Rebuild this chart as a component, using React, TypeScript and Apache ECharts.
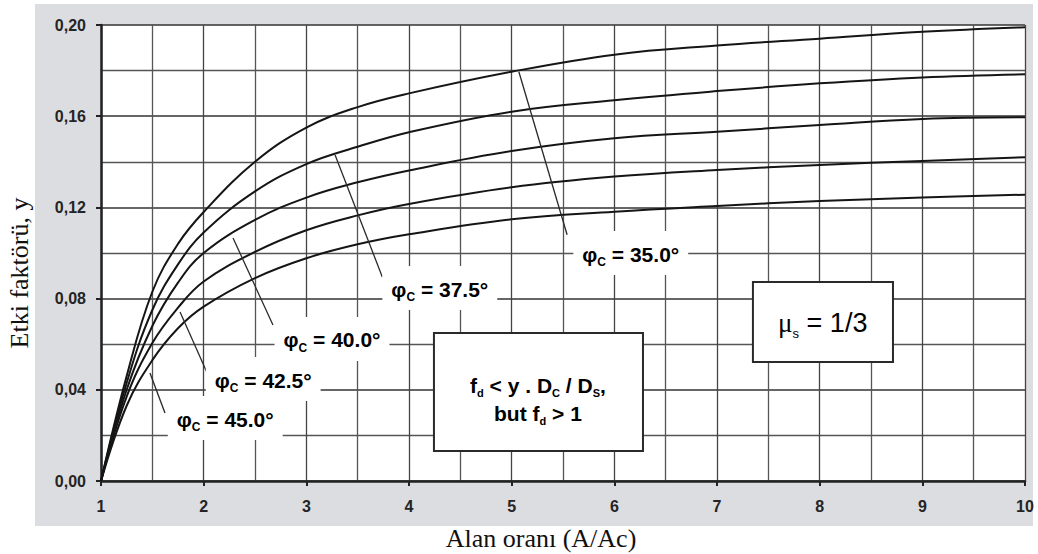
import React, { useEffect, useRef } from "react";
import * as echarts from "echarts";

// ---- data ----
const xValues = [1, 1.25, 1.5, 1.75, 2, 2.5, 3, 3.5, 4, 5, 6, 7, 8, 9, 10];
const phi350 = [0, 0.046, 0.083, 0.104, 0.118, 0.14, 0.155, 0.164, 0.17, 0.1795, 0.187, 0.191, 0.194, 0.197, 0.199];
const phi375 = [0, 0.043, 0.075, 0.095, 0.109, 0.127, 0.139, 0.1466, 0.153, 0.162, 0.167, 0.171, 0.1744, 0.177, 0.1784];
const phi400 = [0, 0.04, 0.068, 0.087, 0.1, 0.1145, 0.1243, 0.131, 0.1362, 0.1447, 0.1503, 0.1532, 0.1561, 0.1588, 0.1595];
const phi425 = [0, 0.037, 0.0605, 0.076, 0.0875, 0.1005, 0.11, 0.1165, 0.1215, 0.1288, 0.1335, 0.1364, 0.1386, 0.1404, 0.142];
const phi450 = [0, 0.033, 0.053, 0.067, 0.0765, 0.089, 0.0977, 0.1038, 0.1082, 0.1148, 0.1181, 0.1206, 0.1228, 0.1243, 0.1256];
const seriesList = [phi350, phi375, phi400, phi425, phi450];

const angleLabels = ["35.0", "37.5", "40.0", "42.5", "45.0"];
// leader lines: [start on curve, end near label] in data coords
const leaderStarts = [[5.07, 0.1795], [3.28, 0.143], [2.286, 0.1066], [1.77, 0.0741], [1.477, 0.0474]];
const leaderEnds = [[5.54, 0.108], [3.74, 0.0895], [2.675, 0.0684], [2.03, 0.0478], [1.623, 0.0298]];
const labelCenters = [[6.16, 0.1], [4.3, 0.0846], [3.25, 0.0623], [2.58, 0.0447], [2.21, 0.0276]];

const fdBox = [[4.243, 0.0649], [6.279, 0.0132]];
const fdLine1At = [5.256, 0.0421];
const fdLine2At = [5.256, 0.0298];
const muBox = [[7.35, 0.0873], [8.714, 0.0522]];
const muTextAt = [8.03, 0.0695];

const xTitle = "Alan oranı (A/Ac)";
const yTitle = "Etki faktörü, y";

const SANS = "'Liberation Sans', Arial, sans-serif";
const SERIF = "'Liberation Serif', 'Times New Roman', serif";
const TXT = "#242424";

export default function App() {
  const ref = useRef<HTMLDivElement>(null);

  useEffect(() => {
    if (!ref.current) return;
    const chart = echarts.init(ref.current, null, { renderer: "svg" });
    chart.setOption({
      animation: false,
      backgroundColor: "#ffffff",
      grid: {
        left: 101,
        right: 13,
        top: 25,
        bottom: 73,
        show: true,
        backgroundColor: "#ffffff",
        borderWidth: 0,
      },
      xAxis: {
        type: "value",
        min: 1,
        max: 10,
        interval: 1,
        axisLine: { show: true, onZero: false, lineStyle: { color: "#222", width: 2.5 } },
        axisTick: { show: true, length: 5, lineStyle: { color: "#222", width: 2 } },
        minorTick: { show: false, splitNumber: 2 },
        splitLine: { show: true, lineStyle: { color: "#444", width: 1.3 } },
        minorSplitLine: { show: true, lineStyle: { color: "#555", width: 1.3 } },
        axisLabel: { fontWeight: "bold", fontSize: 16, color: TXT, margin: 17, fontFamily: SANS },
      },
      yAxis: {
        type: "value",
        min: 0,
        max: 0.2,
        interval: 0.04,
        axisLine: { show: true, lineStyle: { color: "#222", width: 2.5 } },
        axisTick: { show: true, length: 5, lineStyle: { color: "#222", width: 2 } },
        minorTick: { show: false, splitNumber: 2 },
        splitLine: { show: true, lineStyle: { color: "#333", width: 1.5 } },
        minorSplitLine: { show: true, lineStyle: { color: "#555", width: 1.3 } },
        axisLabel: {
          fontWeight: "bold",
          fontSize: 16,
          color: TXT,
          margin: 15,
          fontFamily: SANS,
          formatter: (v: number) => v.toFixed(2).replace(".", ","),
        },
      },
      series: seriesList.map((arr, i) => ({
        type: "line",
        name: angleLabels[i],
        data: xValues.map((x, j) => [x, arr[j]]),
        showSymbol: false,
        smooth: 0.4,
        lineStyle: { color: "#151515", width: 2 },
        z: 5,
      })),
    });

    const px = (p: number[]) => chart.convertToPixel({ xAxisIndex: 0, yAxisIndex: 0 }, p) as number[];

    const phiRich = {
      p: { fontSize: 21, fontWeight: "bold", fontFamily: SANS, color: TXT, lineHeight: 28 },
      s: { fontSize: 12, fontWeight: "bold", fontFamily: SANS, color: TXT, lineHeight: 13, verticalAlign: "bottom" },
      a: { fontSize: 21, fontWeight: "bold", fontFamily: SANS, color: TXT, lineHeight: 28 },
    };

    const graphics: any[] = [];
    graphics.push({
      type: "rect",
      z: -10,
      shape: { x: 35, y: 4, width: 998, height: 522 },
      style: { fill: "#dcdde0" },
      silent: true,
    });

    leaderStarts.forEach((s, i) => {
      const a = px(s);
      const b = px(leaderEnds[i]);
      graphics.push({
        type: "line",
        z: 20,
        shape: { x1: a[0], y1: a[1], x2: b[0], y2: b[1] },
        style: { stroke: "#2a2a2a", lineWidth: 1.3 },
      });
    });

    labelCenters.forEach((c, i) => {
      const p = px(c);
      graphics.push({
        type: "text",
        z: 30,
        x: p[0],
        y: p[1],
        style: {
          text: `{p|φ}{s|C}{a| = ${angleLabels[i]}°}`,
          rich: phiRich,
          align: "center",
          verticalAlign: "middle",
          textAlign: "center",
          textVerticalAlign: "middle",
          backgroundColor: "#ffffff",
          padding: [9, 9, 7, 9],
        },
      });
    });

    const boxRect = (b: number[][]) => {
      const a = px(b[0]);
      const c = px(b[1]);
      return { x: a[0], y: a[1], width: c[0] - a[0], height: c[1] - a[1] };
    };
    graphics.push({
      type: "rect",
      z: 40,
      shape: boxRect(fdBox),
      style: { fill: "#ffffff", stroke: "#2a2a2a", lineWidth: 2 },
    });
    graphics.push({
      type: "rect",
      z: 40,
      shape: boxRect(muBox),
      style: { fill: "#ffffff", stroke: "#2a2a2a", lineWidth: 2 },
    });

    const boxRich = {
      a: { fontSize: 21, fontWeight: "bold", fontFamily: SANS, color: TXT, lineHeight: 26 },
      s: { fontSize: 11, fontWeight: "bold", fontFamily: SANS, color: TXT, lineHeight: 12, verticalAlign: "bottom" },
    };
    const l1 = px(fdLine1At);
    graphics.push({
      type: "text",
      z: 45,
      x: l1[0],
      y: l1[1],
      style: {
        text: "{a|f}{s|d}{a| < y . D}{s|C}{a| / D}{s|S}{a|,}",
        rich: boxRich,
        align: "center",
        verticalAlign: "middle",
        textAlign: "center",
        textVerticalAlign: "middle",
      },
    });
    const l2 = px(fdLine2At);
    graphics.push({
      type: "text",
      z: 45,
      x: l2[0],
      y: l2[1],
      style: {
        text: "{a|but f}{s|d}{a| > 1}",
        rich: boxRich,
        align: "center",
        verticalAlign: "middle",
        textAlign: "center",
        textVerticalAlign: "middle",
      },
    });
    const mu = px(muTextAt);
    graphics.push({
      type: "text",
      z: 45,
      x: mu[0],
      y: mu[1],
      style: {
        text: "{m|μ}{s|s}{a| = 1/3}",
        rich: {
          m: { fontSize: 27, fontFamily: SERIF, color: TXT, lineHeight: 34 },
          s: { fontSize: 13, fontFamily: SANS, color: TXT, lineHeight: 14, verticalAlign: "bottom" },
          a: { fontSize: 27, fontFamily: SANS, color: TXT, lineHeight: 34 },
        },
        align: "center",
        verticalAlign: "middle",
        textAlign: "center",
        textVerticalAlign: "middle",
      },
    });

    graphics.push({
      type: "text",
      z: 45,
      x: 541,
      y: 538,
      style: {
        text: xTitle,
        font: `26px ${SERIF}`,
        fill: "#111",
        align: "center",
        verticalAlign: "middle",
        textAlign: "center",
        textVerticalAlign: "middle",
      },
    });
    graphics.push({
      type: "text",
      z: 45,
      x: 19,
      y: 273,
      rotation: Math.PI / 2,
      style: {
        text: yTitle,
        font: `26px ${SERIF}`,
        fill: "#111",
        align: "center",
        verticalAlign: "middle",
        textAlign: "center",
        textVerticalAlign: "middle",
      },
    });

    chart.setOption({ graphic: graphics });
    return () => chart.dispose();
  }, []);

  return (
    <div
      ref={ref}
      style={{ position: "absolute", left: 0, top: 0, width: 1038, height: 554 }}
    />
  );
}
